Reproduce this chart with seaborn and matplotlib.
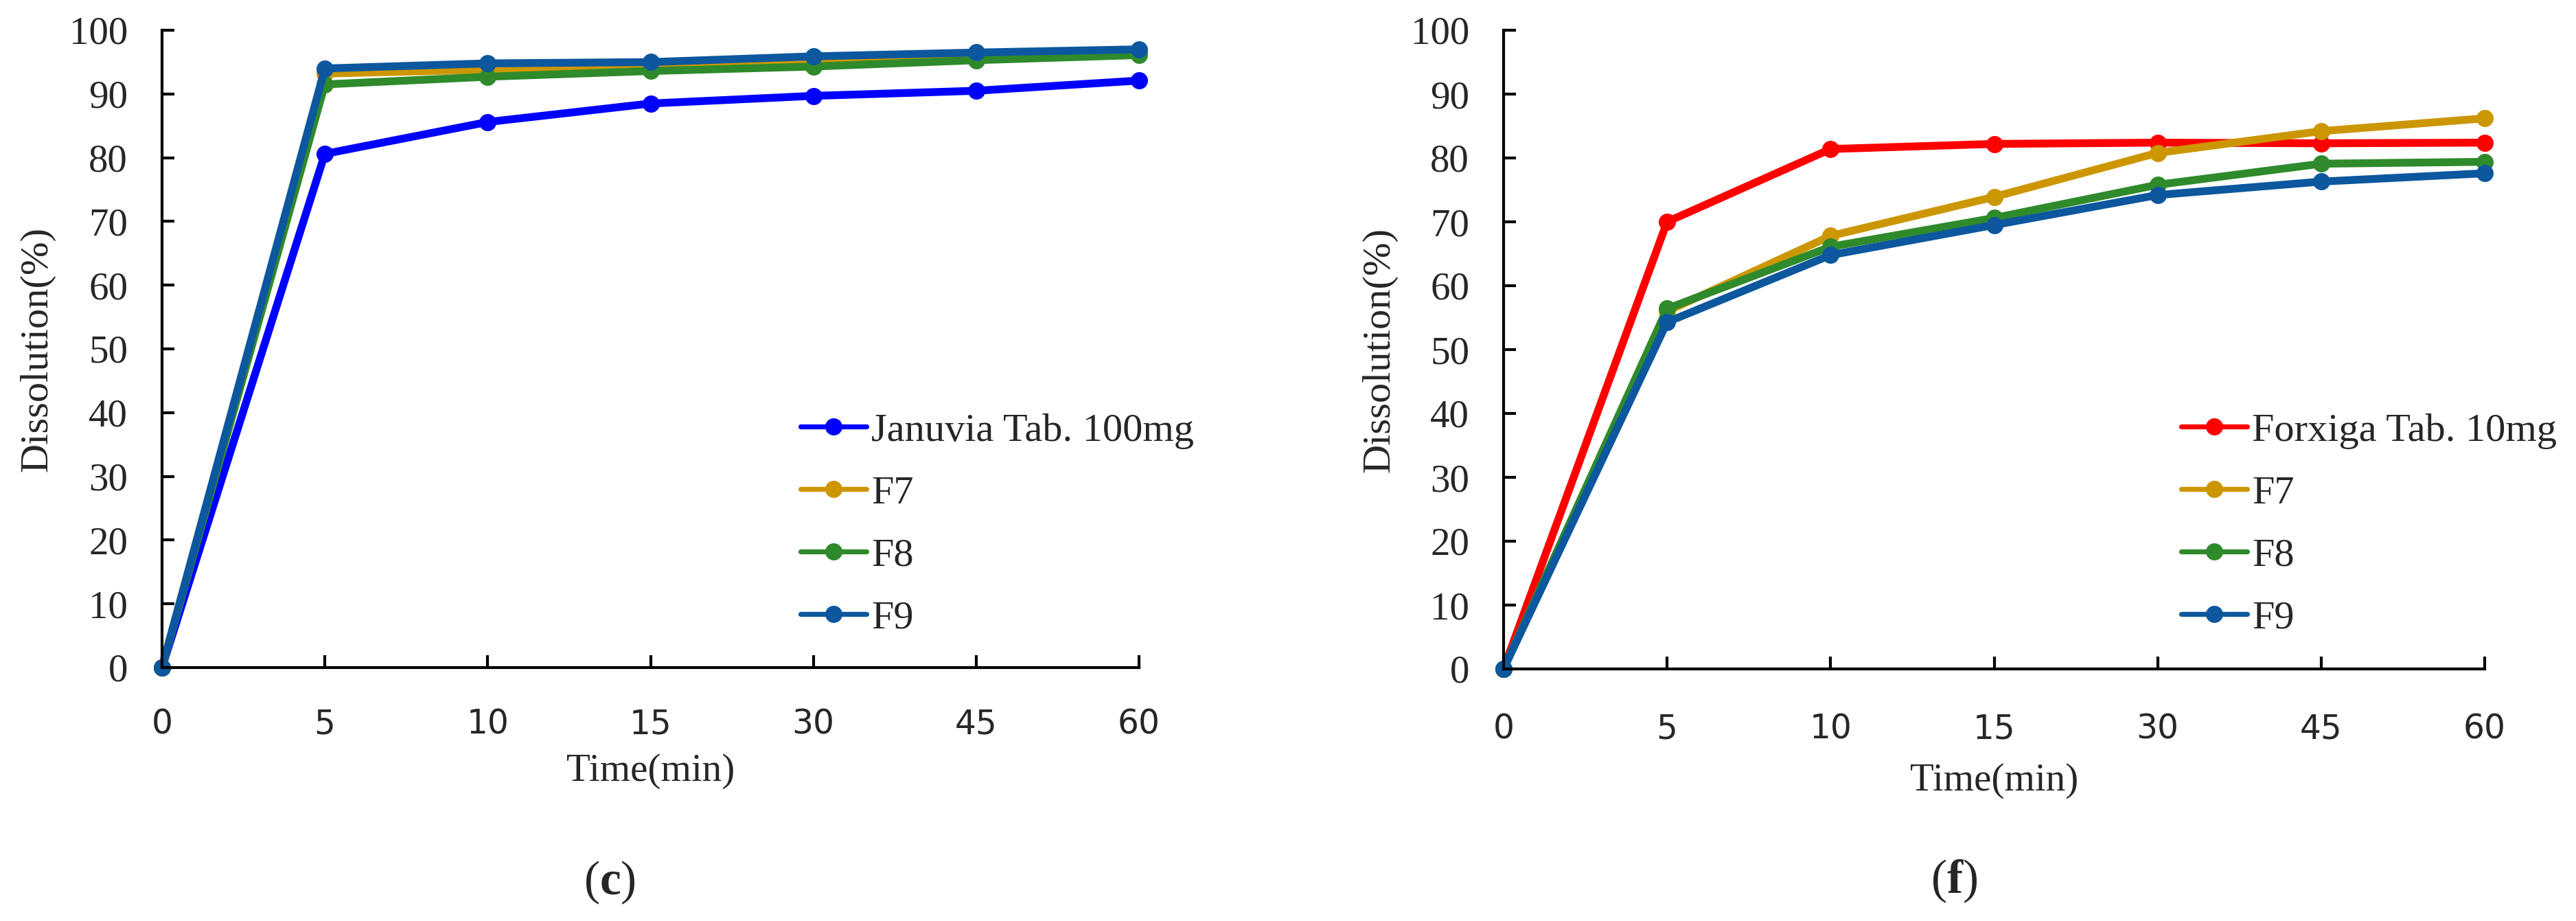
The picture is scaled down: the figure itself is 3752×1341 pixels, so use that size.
import matplotlib
matplotlib.use("Agg")
import matplotlib.pyplot as plt
import seaborn as sns
import pandas as pd

# ---------------- data ----------------
times = ["0", "5", "10", "15", "30", "45", "60"]

left_series = ["Januvia Tab. 100mg", "F7", "F8", "F9"]
januvia = [0, 80.6, 85.6, 88.5, 89.7, 90.5, 92.1]
left_f7 = [0, 93.2, 93.8, 94.3, 95.0, 95.9, 96.6]
left_f8 = [0, 91.5, 92.7, 93.6, 94.3, 95.3, 96.1]
left_f9 = [0, 94.0, 94.8, 95.0, 95.9, 96.5, 97.0]

right_series = ["Forxiga Tab. 10mg", "F7", "F8", "F9"]
forxiga = [0, 70.0, 81.4, 82.2, 82.4, 82.3, 82.4]
right_f7 = [0, 56.0, 67.8, 73.9, 80.8, 84.2, 86.2]
right_f8 = [0, 56.4, 66.1, 70.6, 75.8, 79.1, 79.4]
right_f9 = [0, 54.3, 64.8, 69.5, 74.2, 76.3, 77.6]

yticks = list(range(0, 101, 10))

left_colors = {"Januvia Tab. 100mg": "#0000FF", "F7": "#CC9600",
               "F8": "#2F8A2B", "F9": "#0D579E"}
right_colors = {"Forxiga Tab. 10mg": "#FF0000", "F7": "#CC9600",
                "F8": "#2F8A2B", "F9": "#0D579E"}

# ---------------- style ----------------
sns.set_style("ticks")
plt.rcParams["font.family"] = ["Liberation Serif", "DejaVu Serif"]
plt.rcParams["mathtext.fontset"] = "custom"
plt.rcParams["mathtext.rm"] = "Liberation Serif"
plt.rcParams["mathtext.bf"] = "Liberation Serif:bold"


def long_df(series_names, arrays):
    rows = []
    for name, vals in zip(series_names, arrays):
        for i, v in enumerate(vals):
            rows.append({"pos": i, "val": v, "series": name})
    return pd.DataFrame(rows)


df_left = long_df(left_series, [januvia, left_f7, left_f8, left_f9])
df_right = long_df(right_series, [forxiga, right_f7, right_f8, right_f9])

W, H = 3752, 1341
fig = plt.figure(figsize=(W / 100, H / 100), dpi=100)
ax1 = fig.add_axes([236 / W, 1 - 972 / H, (1659 - 236) / W, (972 - 44) / H])
ax2 = fig.add_axes([2190 / W, 1 - 974 / H, (3619 - 2190) / W, (974 - 44) / H])


def draw(ax, df, order, palette, xpad, xlab_y, ylab_x, legend_xy):
    sns.lineplot(data=df, x="pos", y="val", hue="series", hue_order=order,
                 palette=palette, marker="o", markersize=18,
                 markeredgewidth=0, linewidth=8.2, errorbar=None, ax=ax,
                 sort=False)
    for ln in ax.get_lines():
        ln.set_clip_on(False)
        ln.set_solid_capstyle("round")
        ln.set_solid_joinstyle("round")
    ax.set_xlim(0, 6)
    ax.set_ylim(0, 100)
    ax.set_xticks(range(len(times)))
    ax.set_xticklabels(times, fontfamily="DejaVu Sans", fontsize=35)
    ax.set_yticks(yticks)
    ax.set_yticklabels([str(t) for t in yticks], fontsize=41)
    ax.tick_params(axis="both", direction="in", length=13, width=3,
                   color="black")
    ax.tick_params(axis="x", pad=xpad)
    ax.tick_params(axis="y", pad=36)
    for s in ["top", "right"]:
        ax.spines[s].set_visible(False)
    for s in ["left", "bottom"]:
        ax.spines[s].set_linewidth(3)
        ax.spines[s].set_color("black")
    ax.set_xlabel("Time(min)", fontsize=41)
    ax.set_ylabel("Dissolution(%)", fontsize=42)
    ax.xaxis.set_label_coords(0.5, xlab_y)
    ax.yaxis.set_label_coords(ylab_x, 0.5)
    handles, labels = ax.get_legend_handles_labels()
    leg = ax.legend(handles, labels, loc="upper left",
                    bbox_to_anchor=legend_xy,
                    bbox_transform=fig.transFigure, frameon=False,
                    fontsize=42, handlelength=1.65, handletextpad=0.12,
                    labelspacing=0.65, borderpad=0, borderaxespad=0)
    for lh in leg.get_lines():
        lh.set_linewidth(5.2)
        lh.set_markersize(18)
    ax.set_facecolor("white")


draw(ax1, df_left, left_series, left_colors, 42, -0.1347, -0.1096,
     (1166 / W, 1 - 601 / H))
draw(ax2, df_right, right_series, right_colors, 46, -0.147, -0.1085,
     (3177 / W, 1 - 601 / H))

fig.text(888 / W, 1 - 1302 / H, r"($\mathbf{c}$)", fontsize=50,
         ha="center", va="baseline")
fig.text(2846 / W, 1 - 1300 / H, r"($\mathbf{f}$)", fontsize=50,
         ha="center", va="baseline")

fig.savefig("out.png", dpi=100, facecolor="white")
